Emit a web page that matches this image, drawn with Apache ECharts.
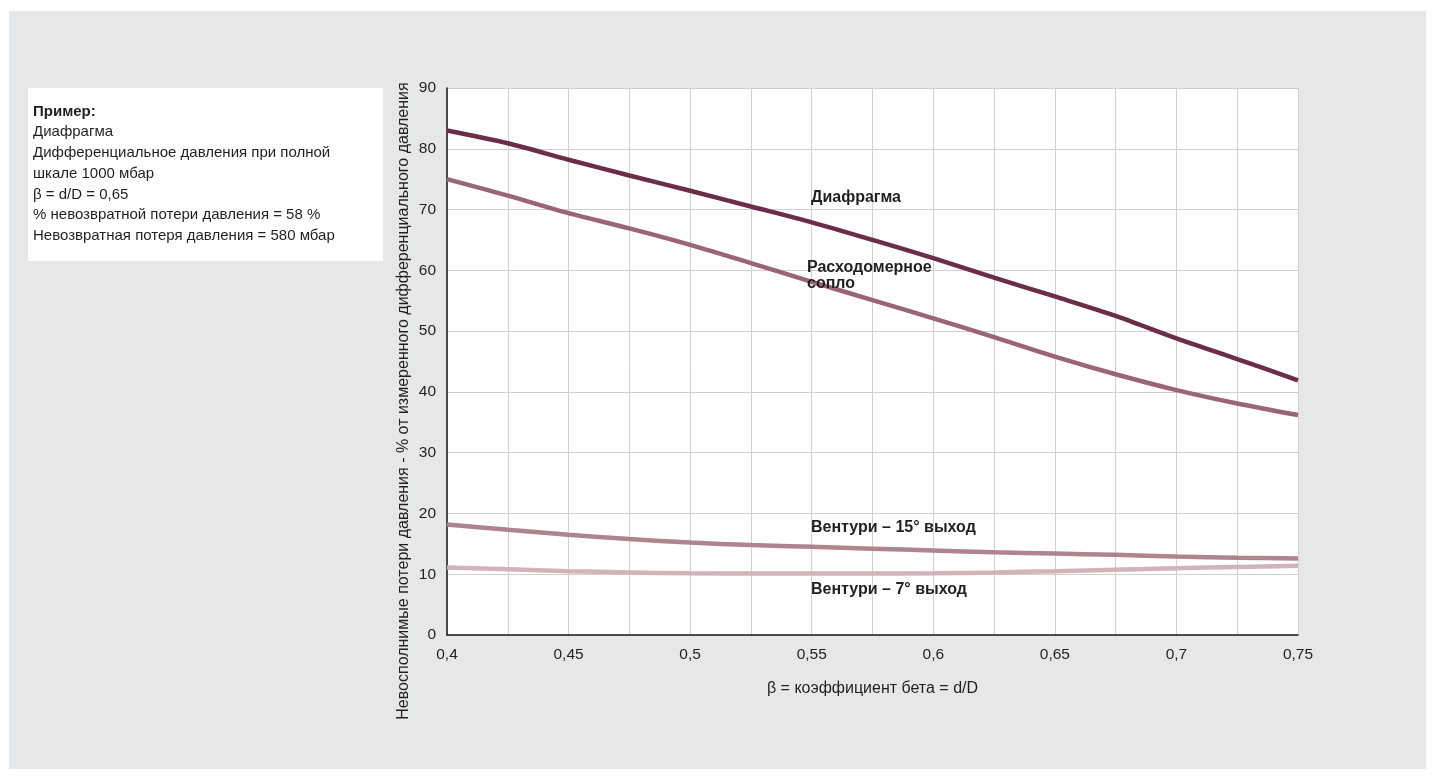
<!DOCTYPE html>
<html>
<head>
<meta charset="utf-8">
<script src="https://cdn.jsdelivr.net/npm/echarts@6/dist/echarts.min.js"></script>
<style>
html,body{margin:0;padding:0;background:#ffffff;}
#panel{position:absolute;left:9px;top:11px;width:1417px;height:758px;background:#e6e7e9;}
#chart{position:absolute;left:0;top:0;width:1435px;height:780px;}
</style>
</head>
<body>
<div id="panel"></div>
<div id="chart"></div>
<script>
// ---- data ----
var beta = [0.4, 0.425, 0.45, 0.475, 0.5, 0.525, 0.55, 0.575, 0.6, 0.625, 0.65, 0.675, 0.7, 0.725, 0.75];
var diafragma = [83.0, 80.9, 78.2, 75.6, 73.1, 70.5, 67.9, 65.0, 62.0, 58.8, 55.7, 52.5, 48.8, 45.4, 41.9];
var soplo = [75.0, 72.3, 69.4, 66.9, 64.2, 61.2, 58.1, 55.1, 52.1, 49.0, 45.8, 42.9, 40.3, 38.1, 36.2];
var venturi15 = [18.2, 17.3, 16.5, 15.8, 15.2, 14.8, 14.5, 14.2, 13.9, 13.6, 13.4, 13.2, 12.9, 12.7, 12.6];
var venturi7 = [11.1, 10.8, 10.5, 10.3, 10.15, 10.1, 10.1, 10.1, 10.15, 10.3, 10.5, 10.75, 11.0, 11.2, 11.4];
var seriesNames = ['Диафрагма', 'Расходомерное\nсопло', 'Вентури – 15° выход', 'Вентури – 7° выход'];
var xTickLabels = ['0,4', '0,45', '0,5', '0,55', '0,6', '0,65', '0,7', '0,75'];
var yAxisTitle = 'Невосполнимые потери давления - % от измеренного дифференциального давления';
var xAxisTitle = 'β = коэффициент бета = d/D';
var exampleTitle = 'Пример:';
var exampleLines = ['Диафрагма', 'Дифференциальное давления при полной', 'шкале 1000 мбар', 'β = d/D = 0,65', '% невозвратной потери давления = 58 %', 'Невозвратная потеря давления = 580 мбар'];

var FONT = '"Liberation Sans", Arial, Helvetica, sans-serif';
function pairs(ys){ return beta.map(function(b,i){ return [b, ys[i]]; }); }

var chart = echarts.init(document.getElementById('chart'), null, {renderer:'canvas'});

function lineSeries(name, ys, color){
  return {
    name: name, type: 'line', data: pairs(ys), smooth: 0.3, symbol: 'none',
    lineStyle: {color: color, width: 4.5}, z: 3
  };
}

var exampleText = exampleLines.map(function(t, i){
  return {type:'text', left: 33, top: 124.5 + i*20.8, style:{text: t, font: '15px ' + FONT, fill:'#231f20'}, z: 2};
});

var option = {
  backgroundColor: 'transparent',
  animation: false,
  grid: {left: 447, right: 137, top: 88, bottom: 145, show: true, backgroundColor: '#ffffff', borderWidth: 0},
  xAxis: {
    type: 'value', min: 0.4, max: 0.75, interval: 0.025,
    axisLine: {show: true, lineStyle: {color: '#1a1a1a', width: 1.5}},
    axisTick: {show: false},
    splitLine: {show: true, lineStyle: {color: '#d0d0d0', width: 1}},
    axisLabel: {
      margin: 12, fontSize: 15.5, color: '#231f20', fontFamily: FONT,
      formatter: function(v){
        var k = Math.round(v*1000);
        if (k % 50 !== 0) return '';
        var idx = (k - 400) / 50;
        return xTickLabels[idx] || '';
      }
    },
    name: xAxisTitle, nameLocation: 'middle', nameGap: 54,
    nameTextStyle: {fontSize: 16, color: '#231f20', fontFamily: FONT, verticalAlign: 'middle'}
  },
  yAxis: {
    type: 'value', min: 0, max: 90, interval: 10,
    axisLine: {show: true, lineStyle: {color: '#1a1a1a', width: 1.5}},
    axisTick: {show: false},
    splitLine: {show: true, lineStyle: {color: '#d0d0d0', width: 1}},
    axisLabel: {margin: 11, fontSize: 15.5, color: '#231f20', fontFamily: FONT}
  },
  graphic: [
    {type:'rect', shape:{x:28, y:88, width:355, height:173}, style:{fill:'#ffffff'}, z: 1},
    {type:'text', left: 33, top: 104, style:{text: exampleTitle, font:'bold 15px ' + FONT, fill:'#231f20'}, z: 2}
  ].concat(exampleText).concat([
    {type:'text', x: 404, y: 401, rotation: Math.PI/2,
      style:{text: yAxisTitle, font:'16px ' + FONT, fill:'#231f20', textAlign:'center', textVerticalAlign:'middle'}, z: 2},
    {type:'text', left: 811, top: 189.5, style:{text: seriesNames[0], font:'bold 16px ' + FONT, fill:'#231f20'}, z: 5},
    {type:'text', left: 807, top: 259.5, style:{text: seriesNames[1], font:'bold 16px ' + FONT, fill:'#231f20', lineHeight: 15.6}, z: 5},
    {type:'text', left: 811, top: 519.5, style:{text: seriesNames[2], font:'bold 16px ' + FONT, fill:'#231f20'}, z: 5},
    {type:'text', left: 811, top: 582, style:{text: seriesNames[3], font:'bold 16px ' + FONT, fill:'#231f20'}, z: 5}
  ]),
  series: [
    lineSeries('Диафрагма', diafragma, '#6b2d47'),
    lineSeries('Расходомерное сопло', soplo, '#9a6575'),
    lineSeries(seriesNames[2], venturi15, '#b0848f'),
    lineSeries(seriesNames[3], venturi7, '#d1b3b9')
  ]
};
chart.setOption(option);
</script>
</body>
</html>
